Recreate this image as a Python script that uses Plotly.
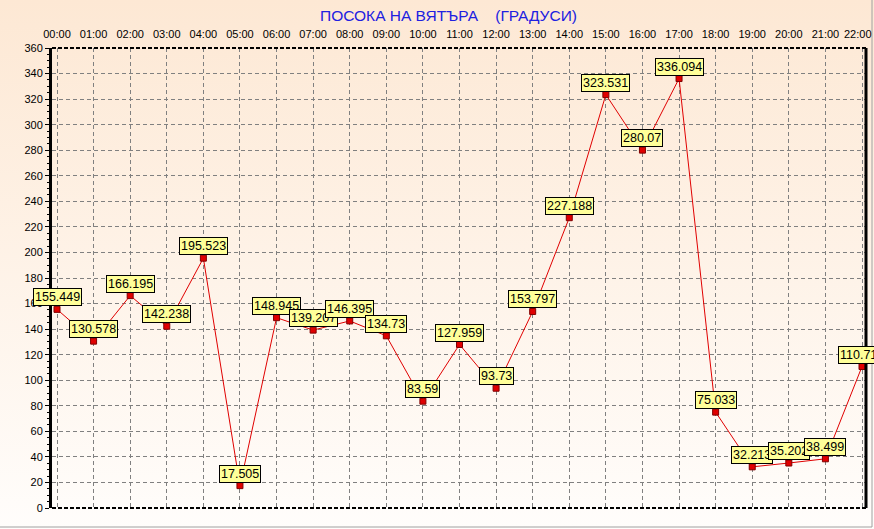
import base64
import plotly.graph_objects as go

hours = ["00:00", "01:00", "02:00", "03:00", "04:00", "05:00", "06:00", "07:00",
         "08:00", "09:00", "10:00", "11:00", "12:00", "13:00", "14:00", "15:00",
         "16:00", "17:00", "18:00", "19:00", "20:00", "21:00", "22:00"]
direction = [155.449, 130.578, 166.195, 142.238, 195.523, 17.505, 148.945, 139.207,
             146.395, 134.73, 83.59, 127.959, 93.73, 153.797, 227.188, 323.531,
             280.07, 336.094, 75.033, 32.213, 35.202, 38.499, 110.715]
y_ticks = list(range(0, 361, 20))

W, H = 874, 529
ML, MR, MT, MB = 52, 8, 48, 21
PW, PH = W - ML - MR, H - MT - MB

FONT = "Liberation Sans"

svg = (
    '<svg xmlns="http://www.w3.org/2000/svg" width="874" height="529" preserveAspectRatio="none" viewBox="0 0 874 529">'
    '<defs><linearGradient id="g" x1="0" y1="0" x2="0" y2="1">'
    '<stop offset="0" stop-color="#fde8d4"/><stop offset="1" stop-color="#fffdfb"/>'
    '</linearGradient></defs><rect width="874" height="529" fill="url(#g)"/></svg>'
)
src = "data:image/svg+xml;base64," + base64.b64encode(svg.encode()).decode()

fig = go.Figure()
fig.add_trace(go.Scatter(
    x=hours, y=direction, mode="lines+markers",
    line=dict(color="#e00000", width=1),
    marker=dict(symbol="square", size=6, color="#e00000",
                line=dict(color="#800000", width=1)),
    hoverinfo="skip", showlegend=False,
))

annotations = []
for h, v in zip(hours, direction):
    annotations.append(dict(
        x=h, y=v, xref="x", yref="y", text=f"{v:g}", showarrow=False,
        xanchor="center", yanchor="bottom", yshift=3,
        font=dict(family=FONT, size=12.5, color="black"),
        bgcolor="#ffff99", bordercolor="black", borderwidth=1, borderpad=1,
    ))
annotations.append(dict(
    x=(448.5 - ML) / PW, y=1 + (MT - 15) / PH, xref="paper", yref="paper",
    text="ПОСОКА НА ВЯТЪРА\u00a0\u00a0\u00a0\u00a0(ГРАДУСИ)", showarrow=False,
    xanchor="center", yanchor="middle",
    font=dict(family=FONT, size=15.5, color="#2020e0"),
))
# last hour label is pushed inside the window edge, as in the original
annotations.append(dict(
    x=(873 - ML) / PW, y=1 + (MT - 34) / PH, xref="paper", yref="paper",
    text=hours[-1], showarrow=False, xanchor="right", yanchor="middle",
    font=dict(family=FONT, size=11, color="black"), borderpad=0,
))

shapes = [
    dict(type="line", xref="paper", yref="paper", x0=0, x1=1, y0=1, y1=1,
         line=dict(color="black", width=2, dash="4px,2px")),
    dict(type="line", xref="paper", yref="paper", x0=0, x1=1, y0=0, y1=0,
         line=dict(color="black", width=2, dash="4px,2px")),
    dict(type="line", xref="paper", yref="paper", x0=1, x1=1, y0=0, y1=1,
         line=dict(color="black", width=3)),
    dict(type="line", xref="paper", yref="paper",
         x0=-ML / PW, x1=(872 - ML) / PW, y0=-(MB - 2) / PH, y1=-(MB - 2) / PH,
         line=dict(color="#a0a0a0", width=1)),
    dict(type="line", xref="paper", yref="paper",
         x0=(872 - ML) / PW, x1=(872 - ML) / PW, y0=-(MB - 2) / PH, y1=1 + MT / PH,
         line=dict(color="#a0a0a0", width=1)),
]

tick_text = hours[:-1] + [""]

px_per = (862 - 57) / 22
fig.update_layout(
    width=W, height=H,
    margin=dict(l=ML, r=MR, t=MT, b=MB, autoexpand=False),
    paper_bgcolor="white", plot_bgcolor="rgba(0,0,0,0)",
    images=[dict(source=src, xref="paper", yref="paper", x=-ML / PW, y=1 + MT / PH,
                 sizex=W / PW, sizey=H / PH, sizing="stretch", layer="below",
                 xanchor="left", yanchor="top")],
    annotations=annotations, shapes=shapes,
    font=dict(family=FONT, size=11, color="black"),
    xaxis=dict(
        type="category", side="top", range=[-(57 - ML) / px_per, 22 + (866 - 862) / px_per],
        tickvals=hours, ticktext=tick_text,
        showgrid=True, gridcolor="#808080", gridwidth=1, griddash="4px,3px",
        showline=False, zeroline=False, ticks="outside", ticklen=5,
        tickcolor="rgba(0,0,0,0)", tickfont=dict(family=FONT, size=11, color="black"),
        fixedrange=True, automargin=False,
    ),
    yaxis=dict(
        range=[0, 360], tickvals=y_ticks, ticktext=[str(t) for t in y_ticks],
        showgrid=True, gridcolor="#808080", gridwidth=1, griddash="4px,3px",
        showline=True, linecolor="black", linewidth=3, zeroline=False,
        ticks="outside", ticklen=4, tickwidth=1, tickcolor="black",
        minor=dict(ticks="outside", ticklen=2, dtick=5, tickcolor="black", showgrid=False),
        tickfont=dict(family=FONT, size=11, color="black"), fixedrange=True,
        automargin=False,
    ),
)

fig.write_html("out.html", config={"displayModeBar": False},
               post_script="document.body.style.margin='0';document.body.style.overflow='hidden';")
